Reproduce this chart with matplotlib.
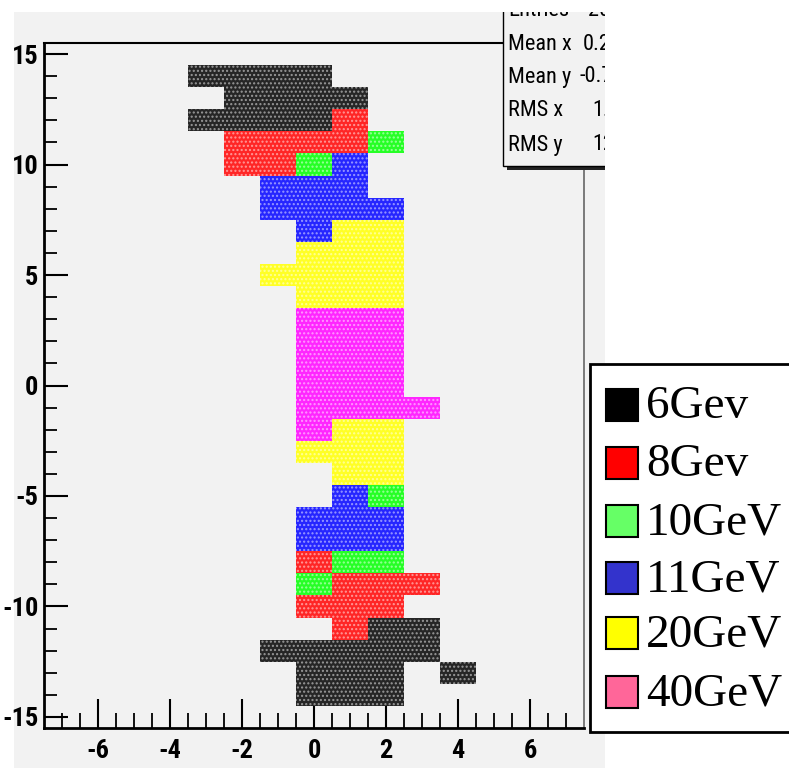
import matplotlib
matplotlib.use("Agg")
import matplotlib.pyplot as plt
from matplotlib.patches import Rectangle
from matplotlib import font_manager as fm

# ---------------- data (cell centres, unit cells) ----------------
labels = ["6Gev", "8Gev", "10GeV", "11GeV", "20GeV", "40GeV"]
plot_colors = ["#000000", "#ff0000", "#00ff00", "#0000ff", "#ffff00", "#ff00ff"]
legend_colors = ["#000000", "#ff0000", "#66ff66", "#3333cc", "#ffff00", "#ff6699"]

x_6 = [-3, -2, -1, 0, -2, -1, 0, 1, -3, -2, -1, 0, 2, 3, -1, 0, 1, 2, 3, 0, 1, 2, 4, 0, 1, 2]
y_6 = [14, 14, 14, 14, 13, 13, 13, 13, 12, 12, 12, 12, -11, -11, -12, -12, -12, -12, -12, -13, -13, -13, -13, -14, -14, -14]

x_8 = [1, -2, -1, 0, 1, -2, -1, 0, 1, 2, 3, 0, 1, 2, 1]
y_8 = [12, 11, 11, 11, 11, 10, 10, -8, -9, -9, -9, -10, -10, -10, -11]

x_10 = [2, 0, 2, 1, 2, 0]
y_10 = [11, 10, -5, -8, -8, -9]

x_11 = [1, -1, 0, 1, -1, 0, 1, 2, 0, 1, 0, 1, 2, 0, 1, 2]
y_11 = [10, 9, 9, 9, 8, 8, 8, 8, 7, -5, -6, -6, -6, -7, -7, -7]

x_20 = [1, 2, 0, 1, 2, -1, 0, 1, 2, 0, 1, 2, 1, 2, 0, 1, 2, 1, 2]
y_20 = [7, 7, 6, 6, 6, 5, 5, 5, 5, 4, 4, 4, -2, -2, -3, -3, -3, -4, -4]

x_40 = [0, 1, 2, 0, 1, 2, 0, 1, 2, 0, 1, 2, 0, 1, 2, 3, 0]
y_40 = [3, 3, 3, 2, 2, 2, 1, 1, 1, 0, 0, 0, -1, -1, -1, -1, -2]

series_x = [x_6, x_8, x_10, x_11, x_20, x_40]
series_y = [y_6, y_8, y_10, y_11, y_20, y_40]

xticks_major = [-6, -4, -2, 0, 2, 4, 6]
xtick_labels = ["-6", "-4", "-2", "0", "2", "4", "6"]
yticks_major = [-15, -10, -5, 0, 5, 10, 15]
ytick_labels = ["-15", "-10", "-5", "0", "5", "10", "15"]

stats_names = ["Entries", "Mean x", "Mean y", "RMS x", "RMS y"]
stats_values = ["20", "0.2", "-0.7", "1.", "12"]

# ---------------- fonts ----------------
names = {f.name for f in fm.fontManager.ttflist}
narrow = "Liberation Sans"
for cand in ["Liberation Sans Narrow", "Arial Narrow", "Roboto Condensed", "PT Sans Narrow",
             "Archivo Narrow", "Barlow Semi Condensed"]:
    if cand in names:
        narrow = cand
        break
serif = "Liberation Serif"

W, H = 789, 768
fig = plt.figure(figsize=(W / 100, H / 100), dpi=100)
fig.patch.set_facecolor("white")


def fx(x):
    return x / W


def fy(y):
    return 1 - y / H


GREY = "#f2f2f2"
canvas = Rectangle((fx(14), fy(768)), fx(605) - fx(14), fy(12) - fy(768),
                   transform=fig.transFigure, facecolor=GREY, edgecolor="none", zorder=-5)
fig.patches.append(canvas)

ax = fig.add_axes([fx(44), fy(728), fx(584) - fx(44), fy(43) - fy(728)])
ax.set_zorder(1)
ax.set_facecolor(GREY)
ax.set_xlim(-7.5, 7.5)
ax.set_ylim(-15.5, 15.5)


def lighten(c, f):
    r, g, b = matplotlib.colors.to_rgb(c)
    return (r + (1 - r) * f, g + (1 - g) * f, b + (1 - b) * f)


plt.rcParams["hatch.linewidth"] = 1.0
for xs, ys, col in zip(series_x, series_y, plot_colors):
    bottoms = [v - 0.5 for v in ys]
    ax.bar(xs, [1] * len(xs), bottom=bottoms, width=1.0, align="center",
           color=lighten(col, 0.15), edgecolor=lighten(col, 0.6), linewidth=0,
           hatch="....", zorder=2)

# spines
for s in ["left", "bottom"]:
    ax.spines[s].set_linewidth(2.0)
    ax.spines[s].set_color("black")
ax.spines["top"].set_linewidth(1.5)
ax.spines["right"].set_linewidth(1.2)
ax.spines["right"].set_color("#666666")

ax.set_xticks(xticks_major)
ax.set_xticklabels(xtick_labels)
ax.set_yticks(yticks_major)
ax.set_yticklabels(ytick_labels)
ax.set_xticks([v * 0.5 for v in range(-14, 15)], minor=True)
ax.set_yticks(list(range(-15, 16)), minor=True)
ax.tick_params(axis="both", which="major", direction="in", width=1.5, colors="black")
ax.tick_params(axis="y", which="major", length=17, pad=4)
ax.tick_params(axis="x", which="major", length=21, pad=8)
ax.tick_params(axis="y", which="minor", direction="in", length=9, width=1.3)
ax.tick_params(axis="x", which="minor", direction="in", length=11, width=1.3)
for lab in ax.get_xticklabels() + ax.get_yticklabels():
    lab.set_fontfamily(narrow)
    lab.set_fontweight("bold")
    lab.set_fontsize(19)

# ---------------- stats box ----------------
sx0, sx1, sy0, sy1 = 503, 640, -20, 166
shadow = Rectangle((fx(sx0 + 4), fy(sy1 + 4)), fx(sx1) - fx(sx0), fy(sy0) - fy(sy1),
                   transform=fig.transFigure, facecolor="#222222", edgecolor="none", zorder=5)
box = Rectangle((fx(sx0), fy(sy1)), fx(sx1) - fx(sx0), fy(sy0) - fy(sy1),
                transform=fig.transFigure, facecolor=GREY, edgecolor="black", linewidth=1.0, zorder=6)
fig.patches.append(shadow)
fig.patches.append(box)
shadow.set_clip_path(canvas)
box.set_clip_path(canvas)

row_y = [11, 44, 77, 111, 145]
val_x = [588, 583, 579, 592, 592]
for name, val, yy, vx in zip(stats_names, stats_values, row_y, val_x):
    t1 = fig.text(fx(508), fy(yy), name, fontfamily=narrow, fontsize=16, va="center", ha="left", zorder=7)
    t2 = fig.text(fx(vx), fy(yy), val, fontfamily=narrow, fontsize=16, va="center", ha="left", zorder=7)
    t1.set_clip_path(canvas)
    t2.set_clip_path(canvas)

# white strip above canvas (canvas starts at y=12)
fig.patches.append(Rectangle((0, fy(12)), 1, 1 - fy(12), transform=fig.transFigure,
                             facecolor="white", edgecolor="none", zorder=8))

# ---------------- legend ----------------
lx0, lx1, ly0, ly1 = 590, 800, 364, 732
fig.patches.append(Rectangle((fx(lx0), fy(ly1)), fx(lx1) - fx(lx0), fy(ly0) - fy(ly1),
                             transform=fig.transFigure, facecolor="white", edgecolor="black",
                             linewidth=2.0, zorder=9))
entry_y = [405, 463, 521, 578, 633, 692]
sq = 32
for lab, col, yy in zip(labels, legend_colors, entry_y):
    fig.patches.append(Rectangle((fx(606), fy(yy + sq / 2)), fx(sq), sq / H,
                                 transform=fig.transFigure, facecolor=col, edgecolor="black",
                                 linewidth=1.5, zorder=10))
    fig.text(fx(646), fy(yy + 2), lab, fontfamily=serif, fontsize=34, va="center", ha="left", zorder=10)

fig.savefig("out.png", dpi=100, facecolor="white")
